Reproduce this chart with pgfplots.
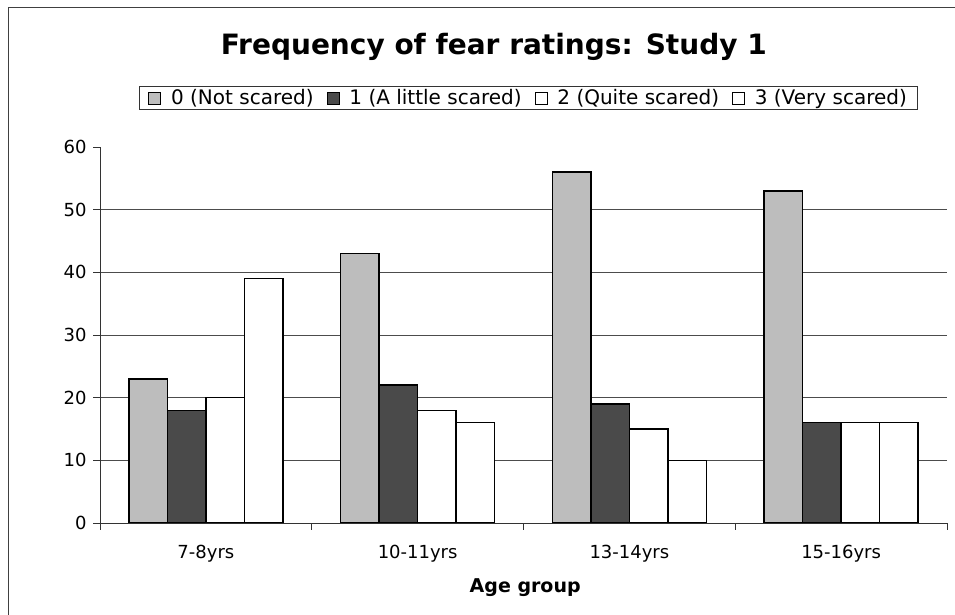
\documentclass[border=0pt]{standalone}
\usepackage{pgfplots}
\pgfplotsset{compat=1.18}
\usepackage{fontspec}
\setmainfont{DejaVu Sans}
\definecolor{lightbar}{HTML}{BDBDBD}
\definecolor{darkbar}{HTML}{4A4A4A}
\begin{document}
\begin{tikzpicture}[x=1pt,y=1pt]
\useasboundingbox (0,0) rectangle (955,615);
\draw[line width=1pt, black!75] (8,-5) -- (8,607) -- (960,607);
\begin{axis}[
  at={(100pt,92pt)}, anchor=south west,
  scale only axis, width=847pt, height=376pt,
  ybar=0pt, bar width=38.5pt,
  xmin=-0.5, xmax=3.5, ymin=0, ymax=60,
  xtick={0,1,2,3},
  xticklabels={7-8yrs,10-11yrs,13-14yrs,15-16yrs},
  major x tick style={draw=none},
  minor xtick={-0.5,0.5,1.5,2.5,3.5},
  minor x tick style={black!80, line width=0.8pt},
  minor tick length=7pt,
  ytick={0,10,...,50},
  extra y ticks={60}, extra y tick style={grid=none},
  ymajorgrids, grid style={black!70, line width=0.8pt},
  tick align=outside, major tick length=7pt,
  y tick style={black!80, line width=0.8pt},
  axis x line*=bottom, axis y line*=left,
  axis line style={black!80, line width=0.8pt, -},
  /pgf/number format/assume math mode=true,
  tick label style={font=\fontsize{18}{20}\selectfont},
  yticklabel style={xshift=-3pt},
  xticklabel style={yshift=-12pt},
  title={\bfseries Frequency of fear ratings: Study 1},
  title style={at={(0.465,1.250)}, anchor=center, font=\fontsize{28}{32}\selectfont},
  xlabel={\bfseries Age group},
  xlabel style={at={(0.502,-0.173)}, anchor=center, font=\fontsize{19}{22}\selectfont},
  legend columns=4,
  legend style={at={(0.506,1.130)}, anchor=center, draw=black!80, line width=0.8pt,
    font=\fontsize{20}{22}\selectfont, inner xsep=9pt, inner ysep=1pt,
    /tikz/every even column/.append style={column sep=11pt},
    /tikz/every odd column/.append style={column sep=8pt}},
  legend image code/.code={\draw[#1, line width=0.8pt] (0pt,-6pt) rectangle (12pt,6pt);},
  every axis plot/.append style={draw=black, line width=1.3pt},
]
\addplot[fill=lightbar] coordinates {(0,23) (1,43) (2,56) (3,53)};
\addplot[fill=darkbar] coordinates {(0,18) (1,22) (2,19) (3,16)};
\addplot[fill=white] coordinates {(0,20) (1,18) (2,15) (3,16)};
\addplot[fill=white] coordinates {(0,39) (1,16) (2,10) (3,16)};
\legend{0 (Not scared),1 (A little scared),2 (Quite scared),3 (Very scared)}
\end{axis}
\end{tikzpicture}
\end{document}
